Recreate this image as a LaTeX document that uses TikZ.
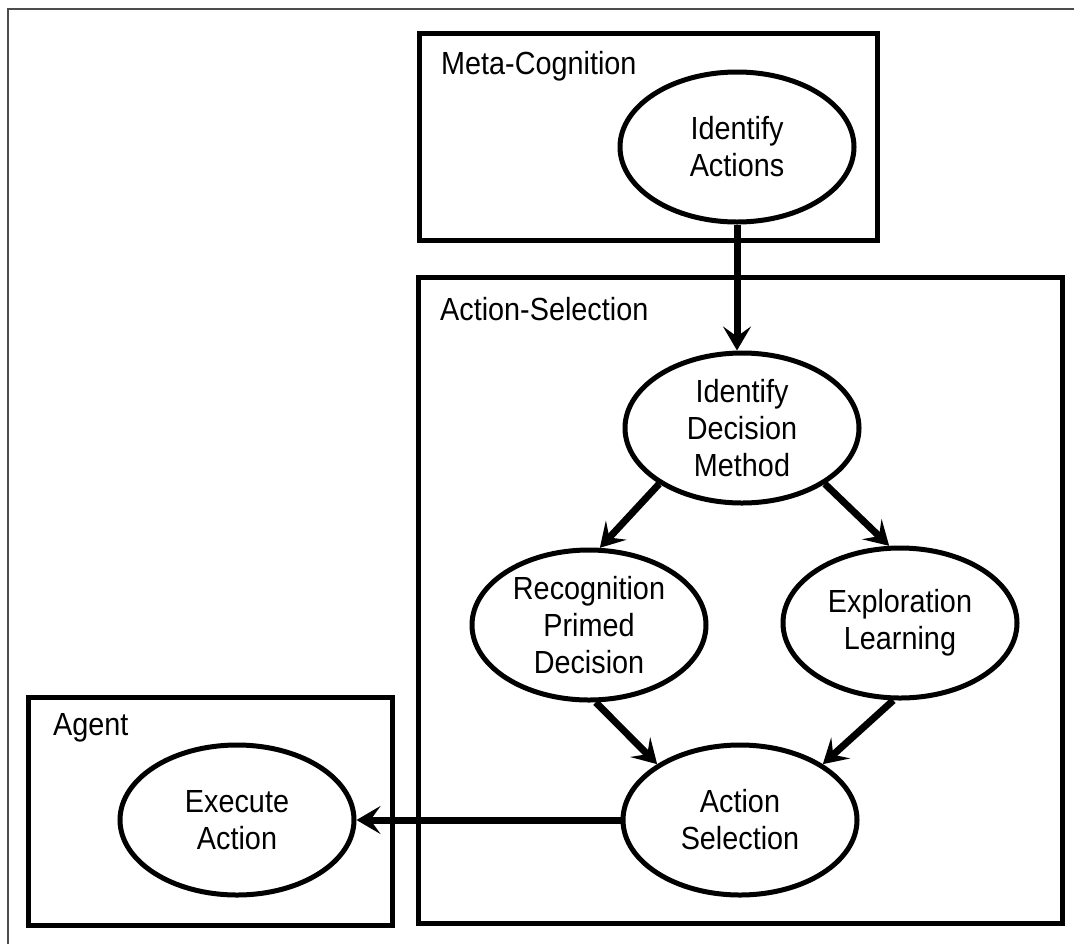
\documentclass[tikz,border=0pt]{standalone}
\usepackage{fontspec}
\setmainfont{Liberation Sans}[FakeStretch=0.9]
\usetikzlibrary{shapes.geometric,arrows.meta}
\tikzset{
  blob/.style={draw,ellipse,line width=5pt,minimum width=234pt,minimum height=150pt,
    inner sep=0pt,align=center,font=\fontsize{32}{37}\selectfont},
  panel/.style={line width=5pt},
  tag/.style={anchor=west,inner sep=0pt,font=\fontsize{32}{37}\selectfont},
  flow/.style={line width=7pt,-{Stealth[length=24pt,width=28pt,inset=10pt]}}
}
\begin{document}
\begin{tikzpicture}[x=1pt,y=-1pt]
  \useasboundingbox (0,0) rectangle (1074,943);
  \clip (0,0) rectangle (1074,943);
  \draw[line width=2.5pt,black!70] (8,9) rectangle (1100,980);
  \draw[panel] (419,33) rectangle (877,240);
  \draw[panel] (418,277) rectangle (1062,923);
  \draw[panel] (28,697) rectangle (392,925);
  \node[tag] (metatag) at (441,66) {Meta-Cognition};
  \node[tag] (seltag) at (440,309) {Action-Selection};
  \node[tag] (agenttag) at (53,728) {Agent};
  \node[blob] (identify) at (737,147) {Identify\\Actions};
  \node[blob] (method) at (742,428) {Identify\\Decision\\Method};
  \node[blob] (rpd) at (589,625) {Recognition\\Primed\\Decision};
  \node[blob] (explore) at (900,623) {Exploration\\Learning};
  \node[blob] (select) at (740,820) {Action\\Selection};
  \node[blob] (execute) at (237,820) {Execute\\Action};
  \draw[flow] (identify.south) -- (identify.south |- method.north);
  \draw[flow] (method.214) -- (rpd.82);
  \draw[flow] (method.326) -- (explore.98);
  \draw[flow] (rpd.275) -- (select.146);
  \draw[flow] (explore.265) -- (select.34);
  \draw[flow] (select.west) -- (execute.east);
\end{tikzpicture}
\end{document}
